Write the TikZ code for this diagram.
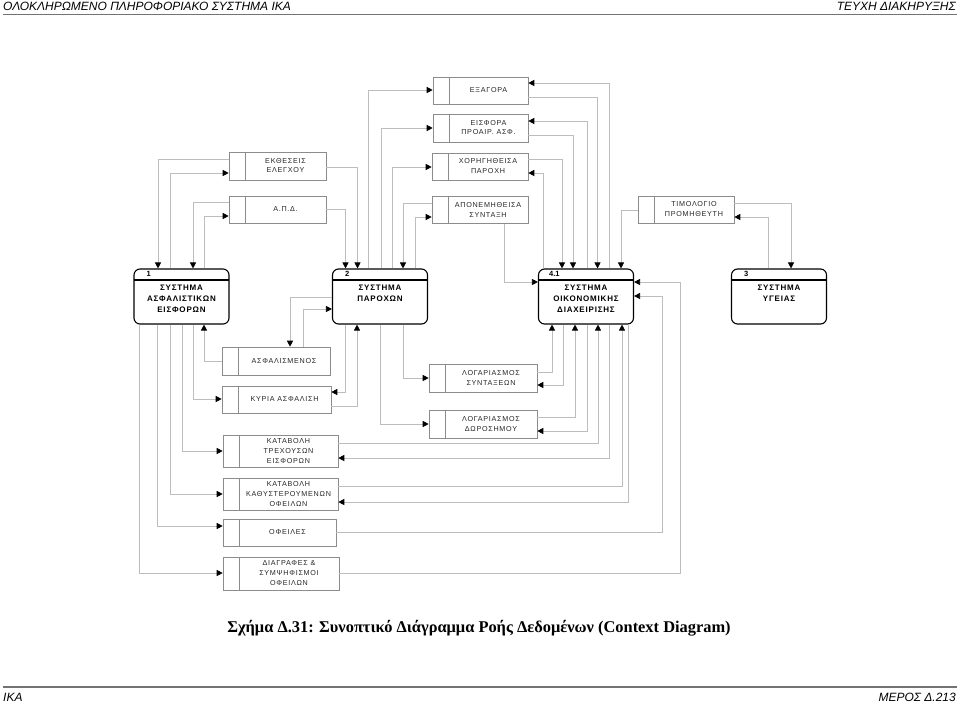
\documentclass[tikz,border=0pt]{standalone}
\usepackage{fontspec}
\setmainfont{Liberation Sans}
\newfontfamily\storefont[LetterSpace=10]{Liberation Sans}
\newfontfamily\procfont[LetterSpace=10]{Liberation Sans}
\newfontfamily\capfont{Liberation Serif}
\usepackage{tikz}
\usetikzlibrary{arrows.meta}
\definecolor{linegray}{gray}{0.74}
\definecolor{boxgray}{gray}{0.55}
\definecolor{rulegray}{gray}{0.45}
\newcommand{\storetext}[1]{\hspace*{16pt}\begin{tabular}{@{}c@{}}#1\end{tabular}}

\begin{document}
\begin{tikzpicture}[x=1pt, y=-1pt,
  flow/.style={draw=linegray, line width=0.7pt, -{Triangle[length=6pt,width=6pt,color=black]}},
  store/.style={draw=boxgray, line width=0.6pt, minimum width=#1, minimum height=27pt, inner sep=0pt,
    font=\storefont\fontsize{7.2}{10}\selectfont, text=black!85,
    path picture={\draw[boxgray, line width=0.6pt] ([xshift=16pt]path picture bounding box.north west) -- ([xshift=16pt]path picture bounding box.south west);}},
  proc/.style={draw=black, line width=1.1pt, rounded corners=6pt, minimum width=95pt, minimum height=55pt, inner sep=0pt,
    path picture={\draw[black, line width=1.1pt] ([yshift=-11pt]path picture bounding box.north west) -- ([yshift=-11pt]path picture bounding box.north east);}},
  ptext/.style={anchor=north, inner sep=0pt, align=center, font=\procfont\bfseries\fontsize{8}{10.7}\selectfont},
  pnum/.style={anchor=west, inner sep=0pt, font=\bfseries\fontsize{7.5}{9}\selectfont}]
\useasboundingbox (0,0) rectangle (960,706);

\node[anchor=west, inner sep=0pt, font=\itshape\fontsize{12}{14}\selectfont] (headl) at (3,6.5) {ΟΛΟΚΛΗΡΩΜΕΝΟ ΠΛΗΡΟΦΟΡΙΑΚΟ ΣΥΣΤΗΜΑ ΙΚΑ};
\node[anchor=east, inner sep=0pt, font=\itshape\fontsize{12}{14}\selectfont] (headr) at (956,6.5) {ΤΕΥΧΗ ΔΙΑΚΗΡΥΞΗΣ};
\draw[rulegray, line width=1.6pt] (3,14.5) -- (957,14.5);
\draw[rulegray, line width=1.6pt] (3,687) -- (957,687);
\node[anchor=west, inner sep=0pt, font=\itshape\fontsize{12}{14}\selectfont] (footl) at (3,697) {ΙΚΑ};
\node[anchor=east, inner sep=0pt, font=\itshape\fontsize{12}{14}\selectfont] (footr) at (956,697) {ΜΕΡΟΣ Δ.213};
\node[font=\capfont\bfseries\fontsize{16.4}{19}\selectfont] (caption) at (479,628) {Σχήμα Δ.31: Συνοπτικό Διάγραμμα Ροής Δεδομένων (Context Diagram)};

\node[store=95pt] (exag) at (480.5,90.5) {\storetext{ΕΞΑΓΟΡΑ}};
\node[store=95pt, minimum height=28pt] (eisf) at (480.5,128) {\storetext{ΕΙΣΦΟΡΑ\\ΠΡΟΑΙΡ. ΑΣΦ.}};
\node[store=96pt] (xorig) at (480,166.5) {\storetext{ΧΟΡΗΓΗΘΕΙΣΑ\\ΠΑΡΟΧΗ}};
\node[store=96pt] (apon) at (480,210) {\storetext{ΑΠΟΝΕΜΗΘΕΙΣΑ\\ΣΥΝΤΑΞΗ}};
\node[store=97pt, minimum height=28pt] (ekth) at (277.5,166) {\storetext{ΕΚΘΕΣΕΙΣ\\ΕΛΕΓΧΟΥ}};
\node[store=97pt] (apd) at (277.5,209.5) {\storetext{Α.Π.Δ.}};
\node[store=96pt] (timol) at (686,209.5) {\storetext{ΤΙΜΟΛΟΓΙΟ\\ΠΡΟΜΗΘΕΥΤΗ}};

\node[store=108pt, minimum height=28pt] (asfm) at (276,361) {\storetext{ΑΣΦΑΛΙΣΜΕΝΟΣ}};
\node[store=109pt] (kyria) at (276.5,399.5) {\storetext{ΚΥΡΙΑ ΑΣΦΑΛΙΣΗ}};
\node[store=115pt, minimum height=32pt] (ktrex) at (280.5,451) {\storetext{ΚΑΤΑΒΟΛΗ\\ΤΡΕΧΟΥΣΩΝ\\ΕΙΣΦΟΡΩΝ}};
\node[store=115pt, minimum height=32pt] (kkath) at (280.5,494) {\storetext{ΚΑΤΑΒΟΛΗ\\ΚΑΘΥΣΤΕΡΟΥΜΕΝΩΝ\\ΟΦΕΙΛΩΝ}};
\node[store=113pt] (ofeil) at (279.5,532.5) {\storetext{ΟΦΕΙΛΕΣ}};
\node[store=116pt, minimum height=33pt] (diagr) at (281,573.5) {\storetext{ΔΙΑΓΡΑΦΕΣ \&\\ΣΥΜΨΗΦΙΣΜΟΙ\\ΟΦΕΙΛΩΝ}};
\node[store=108pt, minimum height=28pt] (lsynt) at (483,378) {\storetext{ΛΟΓΑΡΙΑΣΜΟΣ\\ΣΥΝΤΑΞΕΩΝ}};
\node[store=108pt, minimum height=28pt] (ldor) at (483,424) {\storetext{ΛΟΓΑΡΙΑΣΜΟΣ\\ΔΩΡΟΣΗΜΟΥ}};

\node[proc] (p1) at (181.5,296.5) {};
\node[proc] (p2) at (380,296.5) {};
\node[proc] (p41) at (586,296.5) {};
\node[proc] (p3) at (779,296.5) {};
\node[pnum] (p1n) at ([xshift=13pt,yshift=-5.5pt]p1.north west) {1};
\node[pnum] (p2n) at ([xshift=13pt,yshift=-5.5pt]p2.north west) {2};
\node[pnum] (p41n) at ([xshift=11pt,yshift=-5.5pt]p41.north west) {4.1};
\node[pnum] (p3n) at ([xshift=13pt,yshift=-5.5pt]p3.north west) {3};
\node[ptext] (p1t) at ([yshift=-16.5pt]p1.north) {ΣΥΣΤΗΜΑ\\ΑΣΦΑΛΙΣΤΙΚΩΝ\\ΕΙΣΦΟΡΩΝ};
\node[ptext] (p2t) at ([yshift=-16.5pt]p2.north) {ΣΥΣΤΗΜΑ\\ΠΑΡΟΧΩΝ};
\node[ptext] (p41t) at ([yshift=-16.5pt]p41.north) {ΣΥΣΤΗΜΑ\\ΟΙΚΟΝΟΜΙΚΗΣ\\ΔΙΑΧΕΙΡΙΣΗΣ};
\node[ptext] (p3t) at ([yshift=-16.5pt]p3.north) {ΣΥΣΤΗΜΑ\\ΥΓΕΙΑΣ};

\draw[flow] (ekth.west |- 0,159) -| (158,0 |- p1.north);
\draw[flow] (170,0 |- p1.north) |- (ekth.west |- 0,173);
\draw[flow] (apd.west |- 0,202) -| (193,0 |- p1.north);
\draw[flow] (204,0 |- p1.north) |- (apd.west |- 0,216);
\draw[flow] (ekth.east |- 0,167) -| (357.5,0 |- p2.north);
\draw[flow] (apd.east |- 0,209) -| (345.5,0 |- p2.north);
\draw[flow] (368,0 |- p2.north) |- (exag.west |- 0,90);
\draw[flow] (381,0 |- p2.north) |- (eisf.west |- 0,128);
\draw[flow] (392,0 |- p2.north) |- (xorig.west |- 0,167);
\draw[flow] (apon.west |- 0,203) -| (403,0 |- p2.north);
\draw[flow] (415,0 |- p2.north) |- (apon.west |- 0,217);
\draw[flow] (504,0 |- apon.south) |- (p41.west |- 0,282);

\draw[flow] (609,0 |- p41.north) |- (exag.east |- 0,83);
\draw[flow] (exag.east |- 0,97) -| (597.5,0 |- p41.north);
\draw[flow] (587,0 |- p41.north) |- (eisf.east |- 0,121);
\draw[flow] (eisf.east |- 0,135) -| (573,0 |- p41.north);
\draw[flow] (xorig.east |- 0,159) -| (562,0 |- p41.north);
\draw[flow] (543,0 |- p41.north) |- (xorig.east |- 0,173);
\draw[flow] (timol.west |- 0,210) -| (621,0 |- p41.north);
\draw[flow] (timol.east |- 0,203) -| (791,0 |- p3.north);
\draw[flow] (768,0 |- p3.north) |- (timol.east |- 0,217);

\draw[flow] (p2.west |- 0,297) -| (290,0 |- asfm.north);
\draw[flow] (303,0 |- asfm.north) |- (p2.west |- 0,309);
\draw[flow] (asfm.west |- 0,361) -| (204,0 |- p1.south);
\draw[flow] (193,0 |- p1.south) |- (kyria.west |- 0,399);
\draw[flow] (182,0 |- p1.south) |- (ktrex.west |- 0,451);
\draw[flow] (170,0 |- p1.south) |- (kkath.west |- 0,494);
\draw[flow] (157.5,0 |- p1.south) |- (ofeil.west |- 0,526);
\draw[flow] (139,0 |- p1.south) |- (diagr.west |- 0,573);
\draw[flow] (345.5,0 |- p2.south) |- (kyria.east |- 0,392);
\draw[flow] (kyria.east |- 0,406) -| (357,0 |- p2.south);
\draw[flow] (403,0 |- p2.south) |- (lsynt.west |- 0,378);
\draw[flow] (380,0 |- p2.south) |- (ldor.west |- 0,424);

\draw[flow] (lsynt.east |- 0,372) -| (552,0 |- p41.south);
\draw[flow] (563,0 |- p41.south) |- (lsynt.east |- 0,385);
\draw[flow] (ldor.east |- 0,417) -| (575,0 |- p41.south);
\draw[flow] (587,0 |- p41.south) |- (ldor.east |- 0,431);
\draw[flow] (ktrex.east |- 0,443) -| (598,0 |- p41.south);
\draw[flow] (609,0 |- p41.south) |- (ktrex.east |- 0,458);
\draw[flow] (kkath.east |- 0,486) -| (622,0 |- p41.south);
\draw[flow] (628,0 |- p41.south) |- (kkath.east |- 0,502);
\draw[flow] (ofeil.east |- 0,532) -| (662,296) -- (p41.east |- 0,296);
\draw[flow] (diagr.east |- 0,573) -| (680,282) -- (p41.east |- 0,282);
\end{tikzpicture}
\end{document}
